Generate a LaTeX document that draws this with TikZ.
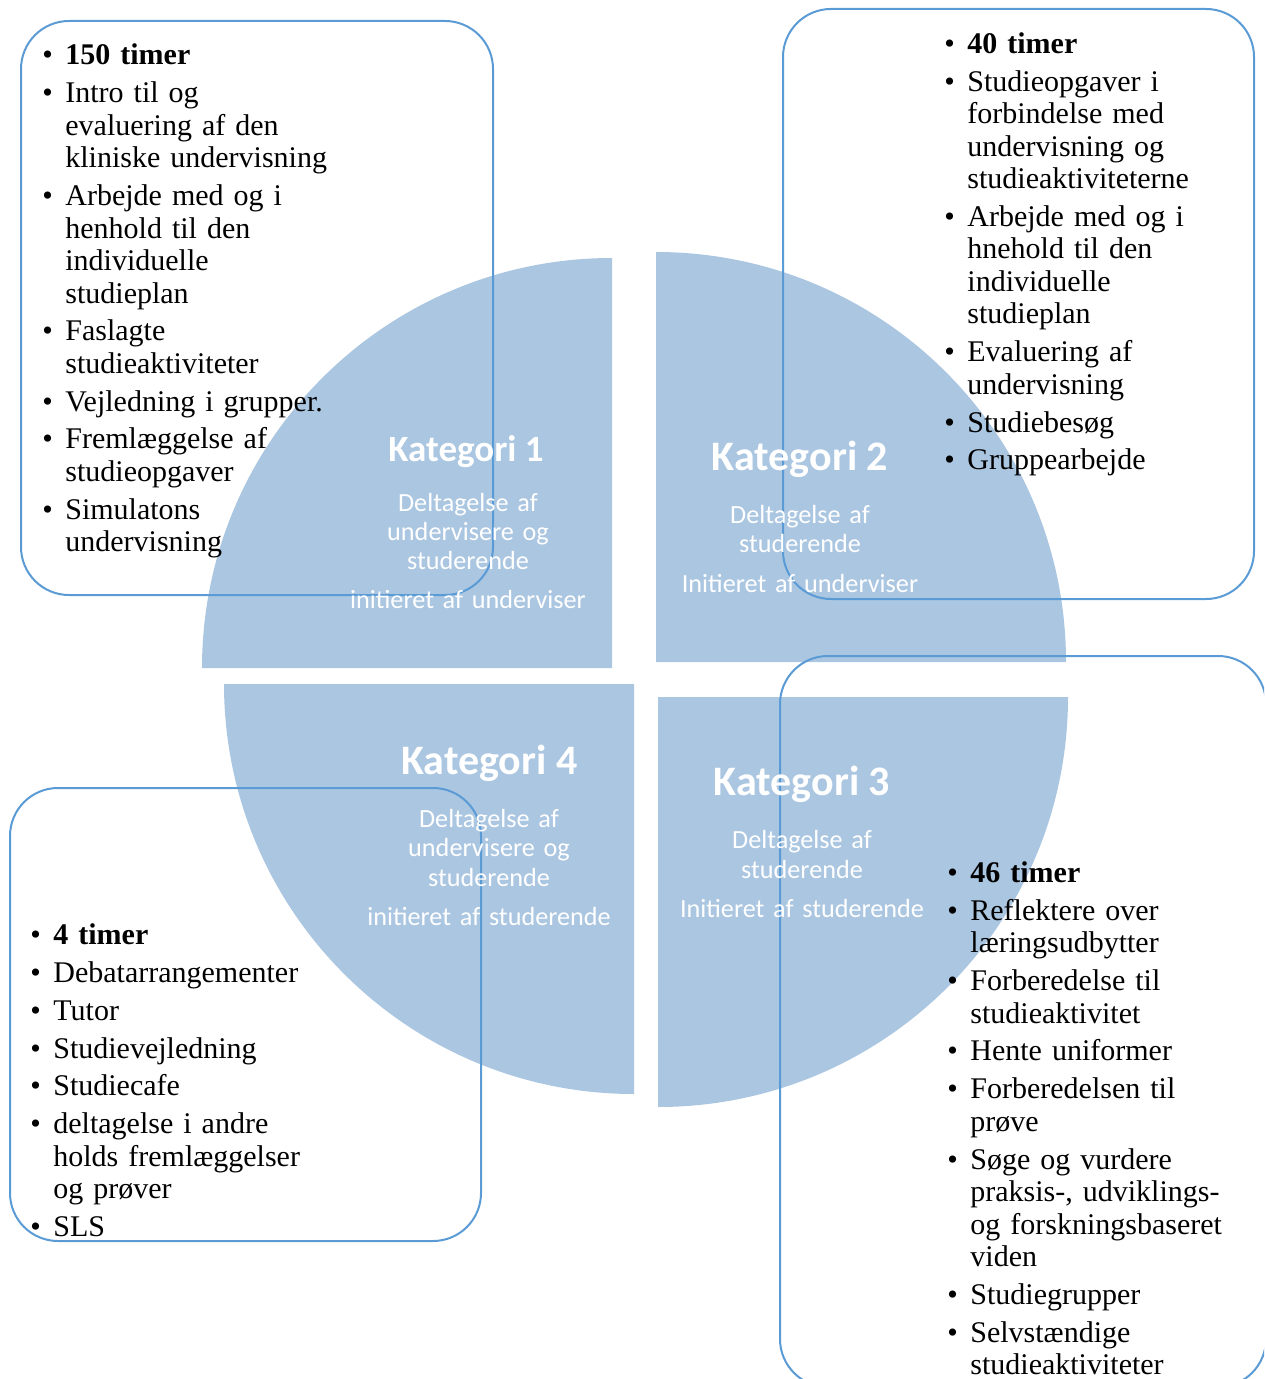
\documentclass[tikz,border=0pt]{standalone}
\usepackage{fontspec}
\setmainfont{Liberation Serif}
\newfontfamily\katfont{Carlito}
\usepackage{tikz}
\definecolor{quartblue}{RGB}{171,198,225}
\definecolor{boxblue}{RGB}{91,155,213}
\newcommand{\lbul}{\makebox[11.5pt][l]{\textbullet}}
\newcommand{\lind}{\hspace*{11.5pt}}
\newcommand{\igap}{\\[2.65pt]}
\tikzset{
  quart/.style={fill=quartblue,draw=none},
  listbox/.style={draw=boxblue,line width=1pt,rounded corners=24pt},
  listtext/.style={anchor=base west,inner sep=0pt,text width=260pt,align=left,font=\fontsize{15}{16.25}\selectfont},
  kattitle/.style={anchor=base,text=white,inner sep=0pt,font=\katfont\bfseries\fontsize{#1}{#1}\selectfont},
  katsub/.style={anchor=base,text=white,inner sep=0pt,text width=150pt,align=center,font=\katfont\fontsize{13.1}{14.65}\selectfont}
}

\begin{document}
\begin{tikzpicture}[x=0.5pt,y=-0.5pt]
\useasboundingbox (0,0) rectangle (1264,1379);
\clip (0,0) rectangle (1264,1379);

\fill[quart] (612,668) -- (202,668) arc[start angle=180,end angle=270,radius=410] -- cycle;
\fill[quart] (656,662) -- (656,252) arc[start angle=270,end angle=360,radius=410] -- cycle;
\fill[quart] (658,697) -- (1068,697) arc[start angle=0,end angle=90,radius=410] -- cycle;
\fill[quart] (634,684) -- (634,1094) arc[start angle=90,end angle=180,radius=410] -- cycle;

\draw[listbox] (21,21) rectangle (493,595);
\draw[listbox] (783,9) rectangle (1254,599);
\draw[listbox] (780,656) rectangle (1266,1387);
\draw[listbox] (10,788) rectangle (481,1241);

\path (42,65) node [listtext] (list1) {\lbul\textbf{150 timer}\igap
\lbul Intro til og\\ \lind evaluering af den\\ \lind kliniske undervisning\igap
\lbul Arbejde med og i\\ \lind henhold til den\\ \lind individuelle\\ \lind studieplan\igap
\lbul Faslagte\\ \lind studieaktiviteter\igap
\lbul Vejledning i grupper.\igap
\lbul Fremlæggelse af\\ \lind studieopgaver\igap
\lbul Simulatons\\ \lind undervisning};

\path (944,53.4) node [listtext] (list2) {\lbul\textbf{40 timer}\igap
\lbul Studieopgaver i\\ \lind forbindelse med\\ \lind undervisning og\\ \lind studieaktiviteterne\igap
\lbul Arbejde med og i\\ \lind hnehold til den\\ \lind individuelle\\ \lind studieplan\igap
\lbul Evaluering af\\ \lind undervisning\igap
\lbul Studiebesøg\igap
\lbul Gruppearbejde};

\path (947,882.5) node [listtext] (list3) {\lbul\textbf{46 timer}\igap
\lbul Reflektere over\\ \lind læringsudbytter\igap
\lbul Forberedelse til\\ \lind studieaktivitet\igap
\lbul Hente uniformer\igap
\lbul Forberedelsen til\\ \lind prøve\igap
\lbul Søge og vurdere\\ \lind praksis-, udviklings-\\ \lind og forskningsbaseret\\ \lind viden\igap
\lbul Studiegrupper\igap
\lbul Selvstændige\\ \lind studieaktiviteter};

\path (30,944.7) node [listtext] (list4) {\lbul\textbf{4 timer}\igap
\lbul Debatarrangementer\igap
\lbul Tutor\igap
\lbul Studievejledning\igap
\lbul Studiecafe\igap
\lbul deltagelse i andre\\ \lind holds fremlæggelser\\ \lind og prøver\igap
\lbul SLS};

\path (466,461.7) node [kattitle=18.5] (kat1) {Kategori 1};
\path (468,511) node [katsub] (kat1sub) {Deltagelse af\\undervisere og\\studerende\\[5pt]initieret af underviser};

\path (800,470) node [kattitle=21] (kat2) {Kategori 2};
\path (800,523.4) node [katsub] (kat2sub) {Deltagelse af\\studerende\\[5pt]Initieret af underviser};

\path (802,795.6) node [kattitle=21] (kat3) {Kategori 3};
\path (802,848.9) node [katsub] (kat3sub) {Deltagelse af\\studerende\\[5pt]Initieret af studerende};

\path (489.5,774.8) node [kattitle=21] (kat4) {Kategori 4};
\path (489,827.5) node [katsub] (kat4sub) {Deltagelse af\\undervisere og\\studerende\\[5pt]initieret af studerende};

\end{tikzpicture}
\end{document}
